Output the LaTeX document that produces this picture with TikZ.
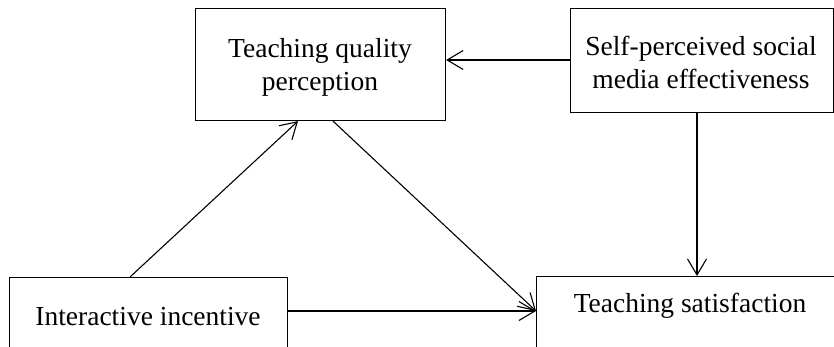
\documentclass[tikz,border=0pt]{standalone}
\usepackage{fontspec}
\setmainfont{Liberation Serif}
\usetikzlibrary{arrows.meta,calc}
\begin{document}
\begin{tikzpicture}[x=1pt,y=-1pt,
  box/.style={draw,line width=1.1pt,rectangle,inner sep=0pt,anchor=north west},
  lbl/.style={font=\fontsize{27.5}{33}\selectfont,align=center,inner sep=0pt,anchor=base},
  arr/.style={line width=1.1pt,-{Straight Barb[length=16pt,width=19pt,line width=1.1pt]}}]
\useasboundingbox (0,0) rectangle (834,346);
\clip (0,0) rectangle (834,346);
% boxes
\node[box,minimum width=250pt,minimum height=112pt] (tqp) at (195,8) {};
\node[box,minimum width=263pt,minimum height=104pt] (spe) at (570,8) {};
\node[box,minimum width=278pt,minimum height=90pt] (ii) at (9,277) {};
\node[box,minimum width=320pt,minimum height=90pt] (ts) at (536,276) {};
% texts
\node[lbl] (tqpA) at (320,57) {Teaching quality};
\node[lbl] (tqpB) at (320,90) {perception};
\node[lbl] (speA) at (701,55) {Self-perceived social};
\node[lbl] (speB) at (701,88) {media effectiveness};
\node[lbl] (iiT) at (148,325) {Interactive incentive};
\node[lbl] (tsT) at (690,312) {Teaching satisfaction};
% connector end points
\coordinate (iiTop) at ($(ii.north west)+(121,0)$);
\coordinate (tqpIn) at ($(tqp.south west)+(103,0)$);
\coordinate (tqpOut) at ($(tqp.south west)+(138,0)$);
\coordinate (iiRight) at ($(ii.north east)+(0,34)$);
\coordinate (tsIn) at ($(ts.north west)+(0,35)$);
\coordinate (speLeft) at ($(spe.north west)+(0,52)$);
\coordinate (tqpRight) at ($(tqp.north east)+(0,52)$);
\coordinate (speBot) at ($(spe.south west)+(127,0)$);
\coordinate (tsTop) at ($(ts.north west)+(161,0)$);
% connectors
\draw[arr] (iiTop) -- (tqpIn);
\draw[arr] (tqpOut) -- (tsIn);
\draw[arr] (iiRight) -- (tsIn);
\draw[arr] (speLeft) -- (tqpRight);
\draw[arr] (speBot) -- (tsTop);
\end{tikzpicture}
\end{document}
